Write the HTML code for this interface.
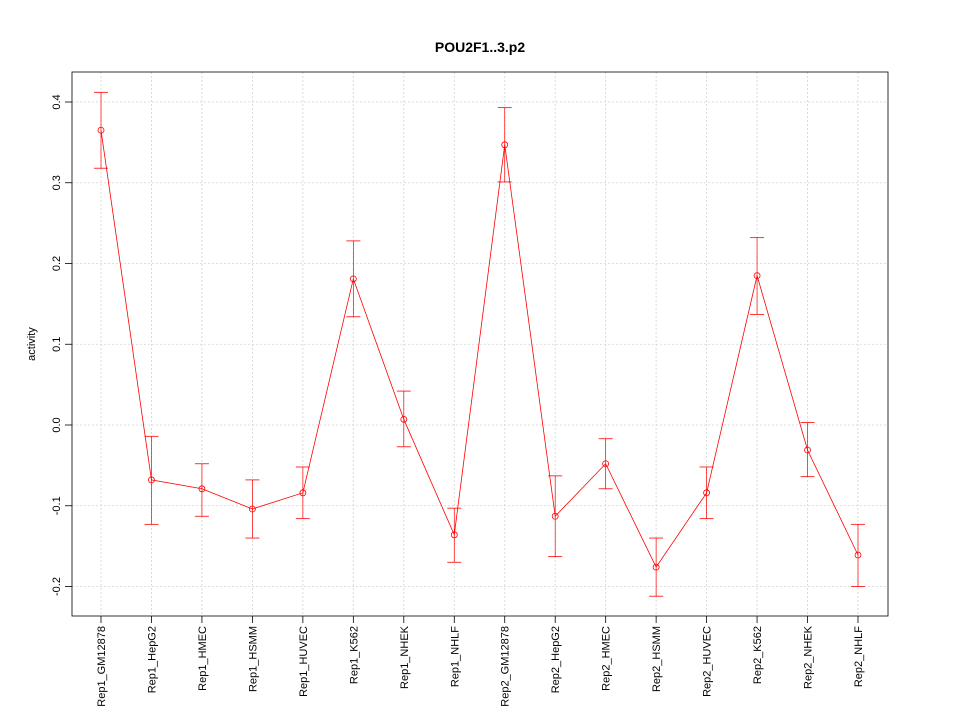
<!DOCTYPE html>
<html><head><meta charset="utf-8"><style>
body{margin:0;background:#fff;}
svg{display:block;font-family:"Liberation Sans",sans-serif;}
</style></head><body>
<svg id="chart" width="960" height="720"></svg>
<script>
const categories=["Rep1_GM12878","Rep1_HepG2","Rep1_HMEC","Rep1_HSMM","Rep1_HUVEC","Rep1_K562","Rep1_NHEK","Rep1_NHLF","Rep2_GM12878","Rep2_HepG2","Rep2_HMEC","Rep2_HSMM","Rep2_HUVEC","Rep2_K562","Rep2_NHEK","Rep2_NHLF"];
const values=[0.365,-0.068,-0.079,-0.104,-0.084,0.181,0.007,-0.136,0.347,-0.113,-0.048,-0.176,-0.084,0.185,-0.031,-0.161];
const upper=[0.412,-0.014,-0.048,-0.068,-0.052,0.228,0.042,-0.103,0.393,-0.063,-0.017,-0.140,-0.052,0.232,0.003,-0.123];
const lower=[0.318,-0.123,-0.113,-0.140,-0.116,0.134,-0.027,-0.170,0.301,-0.163,-0.079,-0.212,-0.116,0.137,-0.064,-0.200];
const yTicks=[-0.2,-0.1,0.0,0.1,0.2,0.3,0.4];
const yTickLabels=["-0.2","-0.1","0.0","0.1","0.2","0.3","0.4"];

const svg=document.getElementById('chart');
const NS="http://www.w3.org/2000/svg";
const L=72,R=888,T=72,B=616;
function xs(i){return 101+i*(858-101)/(categories.length-1);}
function ys(v){return 425-v*807.5;}
function mk(tag,attrs,name,parent){const e=document.createElementNS(NS,tag);for(const k in attrs)e.setAttribute(k,attrs[k]);


(parent||svg).appendChild(e);return e;}

categories.forEach((c,i)=>{mk('line',{x1:xs(i),x2:xs(i),y1:T,y2:B,stroke:'#d3d3d3','stroke-dasharray':'2,2','stroke-width':0.8},'x-grid-line');});
yTicks.forEach(v=>{mk('line',{x1:L,x2:R,y1:ys(v),y2:ys(v),stroke:'#d3d3d3','stroke-dasharray':'2,2','stroke-width':0.8},'y-grid-line');});
mk('rect',{x:L,y:T,width:R-L,height:B-T,fill:'none',stroke:'#000','stroke-width':0.8},'plot-frame');

yTicks.forEach((v,i)=>{
 mk('line',{x1:L-7,x2:L,y1:ys(v),y2:ys(v),stroke:'#000','stroke-width':0.8},'y-tick');
 const t=mk('text',{x:0,y:0,transform:`translate(${L-12},${ys(v)}) rotate(-90)`,'text-anchor':'middle','font-size':'11'},'y-tick-label');
 t.textContent=yTickLabels[i];
});
categories.forEach((c,i)=>{
 mk('line',{x1:xs(i),x2:xs(i),y1:B,y2:B+7,stroke:'#000','stroke-width':0.8},'x-tick');
 const t=mk('text',{x:0,y:0,transform:`translate(${xs(i)+4},${B+10}) rotate(-90)`,'text-anchor':'end','font-size':'11'},'x-tick-label');
 t.textContent=c;
});

mk('polyline',{points:values.map((v,i)=>xs(i)+','+ys(v)).join(' '),fill:'none',stroke:'#ff0000','stroke-width':0.8},'series-line');
values.forEach((v,i)=>{
 const x=xs(i);
 mk('line',{x1:x,x2:x,y1:ys(upper[i]),y2:ys(lower[i]),stroke:'#ff0000','stroke-width':0.7},'error-bar');
 mk('line',{x1:x-7,x2:x+7,y1:ys(upper[i]),y2:ys(upper[i]),stroke:'#ff0000','stroke-width':0.8},'error-cap-upper');
 mk('line',{x1:x-7,x2:x+7,y1:ys(lower[i]),y2:ys(lower[i]),stroke:'#ff0000','stroke-width':0.8},'error-cap-lower');
 mk('circle',{cx:x,cy:ys(v),r:3,fill:'none',stroke:'#ff0000','stroke-width':0.8},'data-point');
});

const title=mk('text',{x:480,y:52,'text-anchor':'middle','font-size':'14','font-weight':'bold'},'chart-title');
title.textContent="POU2F1..3.p2";
const yl=mk('text',{x:0,y:0,transform:'translate(35,344) rotate(-90)','text-anchor':'middle','font-size':'11'},'y-axis-title');
yl.textContent="activity";
</script>
</body></html>
